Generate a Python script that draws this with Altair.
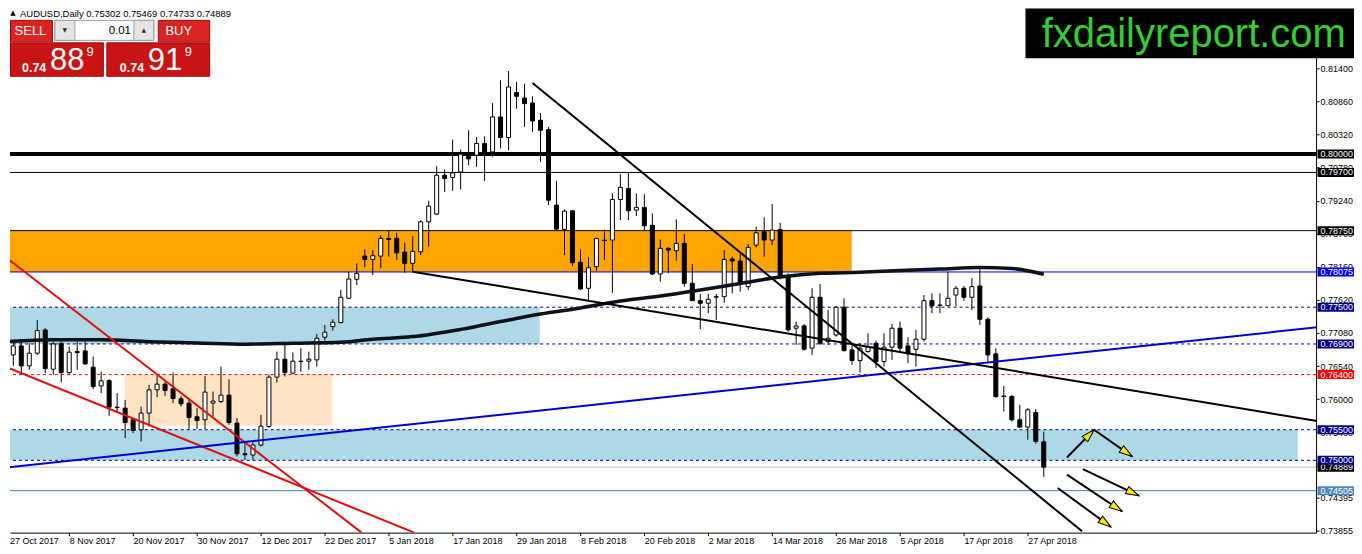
import math
import altair as alt
import pandas as pd

# ---------------- data ----------------
date_labels = ["27 Oct 2017", "8 Nov 2017", "20 Nov 2017", "30 Nov 2017", "12 Dec 2017",
               "22 Dec 2017", "5 Jan 2018", "17 Jan 2018", "29 Jan 2018", "8 Feb 2018",
               "20 Feb 2018", "2 Mar 2018", "14 Mar 2018", "26 Mar 2018", "5 Apr 2018",
               "17 Apr 2018", "27 Apr 2018"]

opens = [0.76596, 0.76721, 0.76868, 0.76542, 0.76749, 0.77129, 0.76488, 0.76912, 0.76433, 0.76775,
         0.76787, 0.76521, 0.76216, 0.76303, 0.75869, 0.75853, 0.75662, 0.75499, 0.75771, 0.76151,
         0.76244, 0.76167, 0.76004, 0.75934, 0.75711, 0.75662, 0.75934, 0.75960, 0.76065, 0.75608,
         0.75108, 0.75087, 0.75250, 0.75553, 0.76358, 0.76651, 0.76423, 0.76619, 0.76619, 0.76640,
         0.77010, 0.77183, 0.77248, 0.77646, 0.77955, 0.78335, 0.78281, 0.78335, 0.78620, 0.78624,
         0.78400, 0.78216, 0.78405, 0.78894, 0.79020, 0.79655, 0.79618, 0.79709, 0.79981, 0.79981,
         0.80172, 0.80035, 0.80606, 0.80270, 0.81004, 0.80915, 0.80834, 0.80552, 0.80400, 0.79166,
         0.78770, 0.79074, 0.78233, 0.77809, 0.78161, 0.78596, 0.78596, 0.79259, 0.79439, 0.79085,
         0.79129, 0.78836, 0.78042, 0.78461, 0.78422, 0.78542, 0.77890, 0.77607, 0.77564, 0.77672,
         0.77672, 0.78286, 0.78254, 0.77835, 0.78514, 0.78731, 0.78596, 0.78770, 0.77998, 0.77157,
         0.77194, 0.76831, 0.77662, 0.76938, 0.77047, 0.77499, 0.76803, 0.76629, 0.76775, 0.76912,
         0.76612, 0.76847, 0.77157, 0.76868, 0.76814, 0.76977, 0.77607, 0.77536, 0.77525, 0.77699,
         0.77809, 0.77662, 0.77846, 0.77303, 0.76738, 0.76050, 0.76042, 0.75662, 0.75543, 0.75781,
         0.75302]
highs = [0.76857, 0.76966, 0.76966, 0.76912, 0.77292, 0.77157, 0.76938, 0.76938, 0.76857, 0.76938,
         0.76938, 0.76694, 0.76449, 0.76325, 0.76097, 0.75988, 0.75690, 0.75879, 0.76232, 0.76396,
         0.76286, 0.76433, 0.76053, 0.75988, 0.75853, 0.76379, 0.76123, 0.76531, 0.76325, 0.75690,
         0.75308, 0.75308, 0.75743, 0.76396, 0.76775, 0.76938, 0.76759, 0.76831, 0.76775, 0.77064,
         0.77210, 0.77303, 0.77781, 0.78079, 0.78216, 0.78444, 0.78433, 0.78677, 0.78748, 0.78715,
         0.78552, 0.78661, 0.78922, 0.79237, 0.79802, 0.79748, 0.80237, 0.80074, 0.80389, 0.80280,
         0.80291, 0.80834, 0.81204, 0.81356, 0.81176, 0.81150, 0.80943, 0.80671, 0.80443, 0.79563,
         0.79096, 0.79085, 0.78444, 0.78314, 0.78624, 0.78770, 0.79357, 0.79672, 0.79704, 0.79357,
         0.79346, 0.79031, 0.78604, 0.78477, 0.78933, 0.78694, 0.78205, 0.77716, 0.77716, 0.77716,
         0.78433, 0.78324, 0.78379, 0.78531, 0.78813, 0.78966, 0.79183, 0.78878, 0.78053, 0.77264,
         0.77227, 0.77809, 0.77879, 0.77455, 0.77520, 0.77646, 0.76901, 0.76912, 0.77075, 0.76955,
         0.77075, 0.77227, 0.77264, 0.77010, 0.77129, 0.77699, 0.77727, 0.77727, 0.78079, 0.77846,
         0.77846, 0.77972, 0.78135, 0.77336, 0.76831, 0.76216, 0.76069, 0.75906, 0.75853, 0.75836,
         0.75469]
lows = [0.76531, 0.76542, 0.76396, 0.76477, 0.76721, 0.76423, 0.76396, 0.76270, 0.76396, 0.76477,
        0.76558, 0.76162, 0.76097, 0.75727, 0.75771, 0.75364, 0.75445, 0.75308, 0.75553, 0.76032,
        0.76053, 0.75934, 0.75879, 0.75510, 0.75510, 0.75510, 0.75716, 0.75934, 0.75580, 0.75064,
        0.75010, 0.75010, 0.75227, 0.75527, 0.76270, 0.76368, 0.76412, 0.76449, 0.76477, 0.76531,
        0.76955, 0.77118, 0.77238, 0.77629, 0.77862, 0.78151, 0.78025, 0.78135, 0.78324, 0.78270,
        0.78063, 0.78079, 0.78351, 0.78487, 0.79003, 0.79383, 0.79400, 0.79422, 0.79818, 0.79791,
        0.79563, 0.79954, 0.80091, 0.80063, 0.80743, 0.80443, 0.80361, 0.79872, 0.79166, 0.78759,
        0.78351, 0.78172, 0.77781, 0.77618, 0.78096, 0.78270, 0.77737, 0.78922, 0.78922, 0.78987,
        0.78759, 0.78025, 0.77916, 0.78053, 0.78259, 0.77835, 0.77607, 0.77140, 0.77401, 0.77292,
        0.77574, 0.77727, 0.77753, 0.77781, 0.78477, 0.78324, 0.78514, 0.77955, 0.77101, 0.76884,
        0.76792, 0.76721, 0.76884, 0.76884, 0.77020, 0.76775, 0.76558, 0.76433, 0.76759, 0.76505,
        0.76531, 0.76640, 0.76759, 0.76586, 0.76531, 0.76938, 0.77401, 0.77401, 0.77520, 0.77520,
        0.77607, 0.77455, 0.77210, 0.76586, 0.76016, 0.75797, 0.75634, 0.75527, 0.75336, 0.75271,
        0.74733]
closes = [0.76775, 0.76868, 0.76542, 0.76749, 0.77118, 0.76498, 0.76901, 0.76433, 0.76766, 0.76759,
          0.76575, 0.76205, 0.76298, 0.75869, 0.75861, 0.75618, 0.75488, 0.75771, 0.76151, 0.76244,
          0.76140, 0.76009, 0.75923, 0.75699, 0.75651, 0.76114, 0.75967, 0.76065, 0.75618, 0.75108,
          0.75091, 0.75250, 0.75559, 0.76358, 0.76651, 0.76433, 0.76619, 0.76611, 0.76651, 0.76994,
          0.77092, 0.77255, 0.77662, 0.77960, 0.78053, 0.78281, 0.78340, 0.78624, 0.78604, 0.78389,
          0.78216, 0.78412, 0.78894, 0.79150, 0.79655, 0.79602, 0.79693, 0.79998, 0.79921, 0.80172,
          0.80035, 0.80606, 0.80270, 0.81095, 0.80943, 0.80824, 0.80541, 0.80389, 0.79248, 0.78775,
          0.79069, 0.78226, 0.77797, 0.78144, 0.78624, 0.78588, 0.79259, 0.79455, 0.79074, 0.79129,
          0.78829, 0.78042, 0.78461, 0.78433, 0.78542, 0.77890, 0.77607, 0.77564, 0.77629, 0.77664,
          0.78281, 0.78254, 0.77890, 0.78477, 0.78715, 0.78596, 0.78759, 0.77988, 0.77129, 0.77194,
          0.76814, 0.77662, 0.76912, 0.76994, 0.77499, 0.76792, 0.76629, 0.76831, 0.76847, 0.76612,
          0.76847, 0.77157, 0.76831, 0.76738, 0.76977, 0.77607, 0.77520, 0.77528, 0.77646, 0.77809,
          0.77662, 0.77835, 0.77303, 0.76721, 0.76042, 0.76042, 0.75662, 0.75543, 0.75825, 0.75308,
          0.74889]

# moving average (thick dark curve), sampled at bar indices
ma_bar = [0, 6, 12, 18, 24, 30, 36, 42, 46, 51, 57, 63, 67, 72, 77, 82, 87, 92, 97, 102,
          107, 112, 117, 122, 126, 130]
ma_price = [0.76936, 0.76970, 0.76970, 0.76937, 0.76917, 0.76896, 0.76912, 0.76928, 0.76977,
            0.77020, 0.77138, 0.77292, 0.77390, 0.77488, 0.77602, 0.77683, 0.77781, 0.77887,
            0.77993, 0.78053, 0.78070, 0.78099, 0.78123, 0.78148, 0.78132, 0.78037]

# horizontal levels
thick_levels = [0.80000]
solid_levels = [0.79700, 0.78750, 0.78075, 0.74889, 0.74505]
dashed_levels = [0.77500, 0.76900, 0.76400, 0.75500, 0.75000]

# zones: bar start, bar end, price low, price high
zone_bar1 = [-1.0, -1.0, -1.0, 14.96]
zone_bar2 = [105.96, 66.9, 161.8, 40.96]
zone_lo = [0.78075, 0.76900, 0.75000, 0.75570]
zone_hi = [0.78750, 0.77500, 0.75500, 0.76400]

# trend lines: (bar1, price1, bar2, price2)
black_tl = [(66.0, 0.81160, 134.8, 0.73841), (51.0, 0.78079, 164.46, 0.75638)]
blue_tl = [(0.0, 0.74880, 164.46, 0.77175)]
red_tl = [(-0.04, 0.78324, 44.6, 0.73820), (-0.04, 0.76531, 51.2, 0.73820)]

# arrows
arrows = [(132.9, 0.75047, 136.3, 0.75499), (136.3, 0.75499, 141.05, 0.75064),
          (134.9, 0.74858, 141.9, 0.74423), (132.9, 0.74766, 139.8, 0.74167),
          (131.75, 0.74549, 138.4, 0.73913)]

# price label boxes on the right axis
box_prices = [0.74889, 0.80000, 0.79700, 0.78750, 0.78075, 0.77500, 0.76900, 0.76400,
              0.75500, 0.75000, 0.74505]
box_colors = ["#000000", "#000000", "#000000", "#000000", "#0000FF", "#000080", "#000080",
              "#FF0000", "#000080", "#000080", "#4A86B8"]

axis_ticks = [0.81400, 0.80860, 0.80320, 0.79780, 0.79240, 0.78700, 0.78160, 0.77620,
              0.77080, 0.76540, 0.76000, 0.75460, 0.74920, 0.74395, 0.73855]

# ---------------- scales ----------------
XMIN, XMAX = 0.5875, 164.0875
YMIN, YMAX = 0.73820, 0.82378
W, H = 1308, 525
PX_X = W / (XMAX - XMIN)
PX_Y = H / (YMAX - YMIN)

xs = alt.Scale(domain=[XMIN, XMAX], nice=False, zero=False, padding=0)
ys = alt.Scale(domain=[YMIN, YMAX], nice=False, zero=False)

FONT = "Liberation Sans"
label_js = "[" + ",".join("'%s'" % s for s in date_labels) + "]"

xaxis = alt.Axis(values=list(range(8, 8 * len(date_labels), 8)),
                 labelExpr=label_js + "[round(datum.value / 8)]",
                 labelAlign="left", labelFont=FONT, labelFontSize=9, labelColor="black",
                 tickSize=3, tickColor="black", domainColor="black", labelPadding=1,
                 grid=False, title=None, labelFlush=False, labelOverlap=False)
yaxis = alt.Axis(orient="right", values=axis_ticks, format=".5f", labelFont=FONT,
                 labelFontSize=9, labelColor="black", tickSize=3, tickColor="black",
                 domainColor="black", labelPadding=1, grid=False, title=None,
                 labelOverlap=False, labelFlush=False)


def X(field):
    return alt.X(field, type="quantitative", scale=xs, axis=xaxis)


def Y(field):
    return alt.Y(field, type="quantitative", scale=ys, axis=yaxis)


cdf = pd.DataFrame({"i": list(range(len(opens))), "o": opens, "h": highs,
                    "l": lows, "c": closes})

layers = []

# zones
zdf = pd.DataFrame({"b1": zone_bar1, "b2": zone_bar2, "lo": zone_lo, "hi": zone_hi,
                    "col": ["#FFA500", "#ADD8E6", "#ADD8E6", "#FFE4C4"]})
layers.append(alt.Chart(zdf).mark_rect(strokeWidth=0, clip=True).encode(
    x=X("b1"), x2="b2", y=Y("lo"), y2="hi", fill=alt.Fill("col:N", scale=None)))

# level lines
solid_cols = ["#000000", "#000000", "#0000CD", "#C0C0C0", "#4682B4"]
dashed_cols = ["#000080", "#000080", "#FF0000", "#000080", "#000080"]
layers.append(alt.Chart(pd.DataFrame({"p": solid_levels, "col": solid_cols})).mark_rule(
    strokeWidth=1).encode(y=Y("p"), color=alt.Color("col:N", scale=None)))
layers.append(alt.Chart(pd.DataFrame({"p": dashed_levels, "col": dashed_cols})).mark_rule(
    strokeWidth=1, strokeDash=[3, 3]).encode(y=Y("p"), color=alt.Color("col:N", scale=None)))
layers.append(alt.Chart(pd.DataFrame({"p": thick_levels})).mark_rule(
    strokeWidth=4, color="black").encode(y=Y("p")))

# candles
layers.append(alt.Chart(cdf).mark_rule(color="black", strokeWidth=1, clip=True).encode(
    x=X("i"), y=Y("l"), y2="h"))
layers.append(alt.Chart(cdf).mark_bar(size=4, stroke="black", strokeWidth=1, clip=True).encode(
    x=X("i"), y=Y("o"), y2="c",
    fill=alt.condition("datum.c > datum.o", alt.value("white"), alt.value("black"))))

# moving average
layers.append(alt.Chart(pd.DataFrame({"i": ma_bar, "p": ma_price})).mark_line(
    color="#101018", strokeWidth=3.5, interpolate="monotone", clip=True).encode(
    x=X("i"), y=Y("p")))


def tl_layer(rows, color, width=2):
    df = pd.DataFrame(rows, columns=["i1", "p1", "i2", "p2"])
    return alt.Chart(df).mark_rule(color=color, strokeWidth=width, clip=True).encode(
        x=X("i1"), x2="i2", y=Y("p1"), y2="p2")


layers.append(tl_layer(red_tl, "#E01010"))
layers.append(tl_layer(blue_tl, "#0000CD"))
layers.append(tl_layer(black_tl, "#000000"))

# arrows
adf = pd.DataFrame(arrows, columns=["i1", "p1", "i2", "p2"])
adf["ang"] = [(math.degrees(math.atan2((r.i2 - r.i1) * PX_X, (r.p2 - r.p1) * PX_Y)) + 360) % 360
              for r in adf.itertuples()]
layers.append(tl_layer(arrows, "#000000"))
layers.append(alt.Chart(adf).mark_point(
    shape="M0,0L-0.6,2L0.6,2Z", filled=True, fill="#FFE600", stroke="black",
    strokeWidth=1, opacity=1, size=169).encode(
    x=X("i2"), y=Y("p2"), angle=alt.Angle("ang:Q", scale=None)))

# price label boxes
HALF = 4.5 / PX_Y
bdf = pd.DataFrame({"p": box_prices, "col": box_colors})
bdf["top"] = bdf["p"] + HALF
bdf["bot"] = bdf["p"] - HALF
bdf["txt"] = ["%.5f" % v for v in box_prices]
for part in (bdf.iloc[:1], bdf.iloc[1:]):
    layers.append(alt.Chart(part).mark_rect(strokeWidth=0).encode(
        x=alt.value(W + 1.5), x2=alt.value(1346),
        y=Y("top"), y2="bot", fill=alt.Fill("col:N", scale=None)))
    layers.append(alt.Chart(part).mark_text(
        align="left", baseline="middle", font=FONT, fontSize=9, color="white").encode(
        x=alt.value(W + 4.5), y=Y("p"), text="txt:N"))

# ---------------- trading widget, first date label and logo ----------------
dummy = pd.DataFrame({"k": [0]})


def box(x1, y1, x2, y2, fill, stroke=None, sw=1.0):
    kw = {"fill": fill}
    if stroke:
        kw.update(stroke=stroke, strokeWidth=sw)
    else:
        kw.update(strokeWidth=0)
    return alt.Chart(dummy).mark_rect(**kw).encode(
        x=alt.value(x1), x2=alt.value(x2), y=alt.value(y1), y2=alt.value(y2))


def txt(s, x, y, size, color, weight="normal", align="left", baseline="middle", font=FONT):
    return alt.Chart(dummy).mark_text(
        text=s, fontSize=size, color=color, fontWeight=weight, align=align,
        baseline=baseline, font=font).encode(x=alt.value(x), y=alt.value(y))


RED1, RED2, REDB = "#DA2424", "#C81414", "#9A0A0A"
layers += [
    txt(date_labels[0], 0, H + 4, 9, "black", baseline="top"),
    txt("\u25B2", 3, 4.5, 7, "black", align="center", font="DejaVu Sans"),
    txt("AUDUSD,Daily  0.75302 0.75469 0.74733 0.74889", 10, 0.5, 9.5, "black",
        baseline="top"),
    box(0.5, 12, 42.5, 33.5, RED1, REDB),
    box(148.5, 12, 200, 33.5, RED1, REDB),
    box(0.5, 34.5, 93.5, 68, RED2, REDB),
    box(97, 34.5, 200, 68, RED2, REDB),
    box(45, 12, 144, 32, "white", "#A0A0A0"),
    box(45, 12, 65, 32, "#E4E4E4", "#A0A0A0"),
    box(124, 12, 144, 32, "#E4E4E4", "#A0A0A0"),
    txt("\u25BC", 55, 22, 6, "#333333", align="center", font="DejaVu Sans"),
    txt("\u25B2", 134, 22, 6, "#333333", align="center", font="DejaVu Sans"),
    txt("0.01", 110, 22.5, 11.5, "black", align="center"),
    txt("SELL", 20.5, 23, 13, "white", align="center"),
    txt("BUY", 169, 23, 13, "white", align="center"),
    txt("0.74", 12, 64, 12.5, "white", weight="bold", baseline="alphabetic"),
    txt("88", 40, 62, 31, "white", baseline="alphabetic"),
    txt("9", 76.5, 48, 13, "white", baseline="alphabetic"),
    txt("0.74", 110, 64, 12.5, "white", weight="bold", baseline="alphabetic"),
    txt("91", 138, 62, 31, "white", baseline="alphabetic"),
    txt("9", 175, 48, 13, "white", baseline="alphabetic"),
    box(1017, 0, 1346, 50, "black"),
    txt("fxdailyreport.com", 1185.5, 38.7, 40, "#33CC33", align="center",
        baseline="alphabetic"),
]

chart = alt.layer(*layers).properties(
    width=W, height=H, padding=0, background="white",
).configure_view(stroke="transparent")

chart.save("out.html", embed_options={"renderer": "svg", "actions": False})
